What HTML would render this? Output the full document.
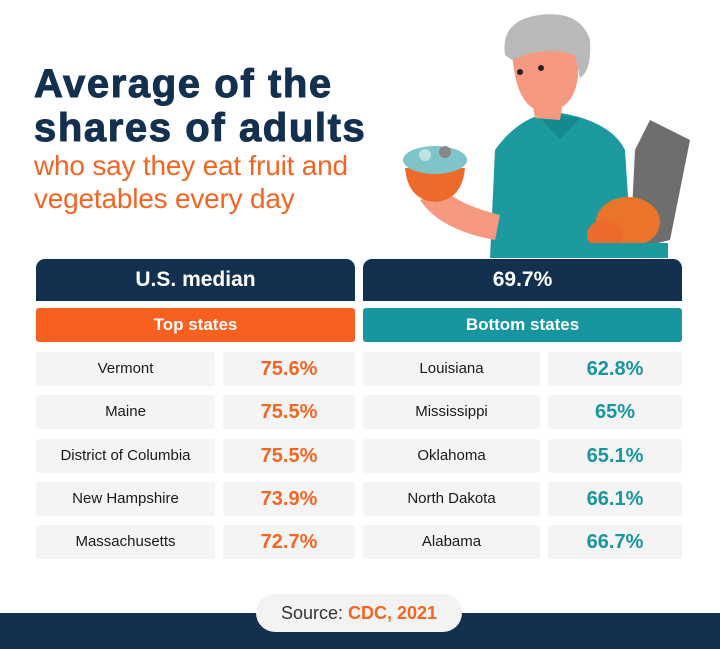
<!DOCTYPE html>
<html><head><meta charset="utf-8"><style>
body{margin:0;width:720px;height:649px;background:#fff;position:relative;overflow:hidden;font-family:"Liberation Sans",sans-serif}
.a{position:absolute}
.t1{left:34px;font-size:40px;font-weight:900;color:#13304f;letter-spacing:1.6px;-webkit-text-stroke:1px #13304f}
.t2{left:34px;font-size:28px;color:#f26522;letter-spacing:-0.2px}
.hd{background:#13304f;color:#fff;font-size:21px;font-weight:bold;text-align:center;line-height:42px;border-radius:9px 9px 0 0;top:259px;height:42px}
.sb{color:#fff;font-size:17px;font-weight:bold;text-align:center;line-height:34px;border-radius:3px;top:308px;height:34px}
.c{background:#f4f4f4;height:34px;line-height:34px;text-align:center;border-radius:3px;font-size:15px;color:#1a1a1a}
.v{font-size:20px;font-weight:bold}
</style></head><body>
<svg class="a" style="left:380px;top:0" width="320" height="260" viewBox="380 0 320 260">
<path d="M490 258 L495 150 Q520 115 555 112 Q610 120 625 150 L632 258Z" fill="#1c9aa0"/>
<path d="M535 112 L560 140 L580 118Z" fill="#138a90"/>
<path d="M420 200 Q440 230 495 240 L500 215 Q460 205 445 190Z" fill="#f59a80"/>
<path d="M528 80 L535 118 L560 120 L565 90Z" fill="#f59a80"/>
<path d="M512 50 Q515 110 545 112 Q575 110 578 75 L578 50Z" fill="#f59a80"/>
<path d="M505 55 Q500 20 540 15 Q580 10 590 40 Q592 70 580 78 L575 55 Q545 45 512 60Z" fill="#b9b9b9"/>
<circle cx="520" cy="72" r="3" fill="#222"/><circle cx="541" cy="68" r="3" fill="#222"/>
<path d="M405 168 L465 168 Q462 200 435 202 Q408 200 405 168Z" fill="#ee6a2a"/>
<ellipse cx="435" cy="160" rx="32" ry="14" fill="#7fc4c8"/>
<circle cx="425" cy="155" r="6" fill="#bfe3e5"/><circle cx="445" cy="152" r="6" fill="#888"/>
<path d="M630 250 L635 150 L650 120 L690 140 L670 240Z" fill="#555" opacity=".85"/>
<ellipse cx="628" cy="222" rx="32" ry="25" fill="#e9742a"/>
<ellipse cx="605" cy="235" rx="18" ry="15" fill="#ee6a2a"/>
<rect x="585" y="243" width="83" height="15" fill="#1c9aa0"/>
</svg>
<div class="a t1" style="top:62px">Average of the</div>
<div class="a t1" style="top:106px">shares of adults</div>
<div class="a t2" style="top:150px">who say they eat fruit and</div>
<div class="a t2" style="top:183px">vegetables every day</div>
<div class="a hd" style="left:36px;width:319px">U.S. median</div>
<div class="a hd" style="left:363px;width:319px">69.7%</div>
<div class="a sb" style="left:36px;width:319px;background:#f7601e">Top states</div>
<div class="a sb" style="left:363px;width:319px;background:#1796a0">Bottom states</div>
<div id="rows"></div>
<script>
var L=[["Vermont","75.6%"],["Maine","75.5%"],["District of Columbia","75.5%"],["New Hampshire","73.9%"],["Massachusetts","72.7%"]];
var R=[["Louisiana","62.8%"],["Mississippi","65%"],["Oklahoma","65.1%"],["North Dakota","66.1%"],["Alabama","66.7%"]];
var h="";
for(var i=0;i<5;i++){var y=352+i*43.3;
h+='<div class="a c" style="left:36px;width:179px;top:'+y+'px">'+L[i][0]+'</div>';
h+='<div class="a c v" style="left:223px;width:132px;top:'+y+'px;color:#f26522">'+L[i][1]+'</div>';
h+='<div class="a c" style="left:363px;width:177px;top:'+y+'px">'+R[i][0]+'</div>';
h+='<div class="a c v" style="left:548px;width:134px;top:'+y+'px;color:#1796a0">'+R[i][1]+'</div>';}
document.getElementById("rows").innerHTML=h;
</script>
<div class="a" style="left:0;top:613px;width:720px;height:36px;background:#13304f"></div>
<div class="a" style="left:256px;top:594px;width:206px;height:38px;background:#f3f3f3;border-radius:19px;text-align:center;line-height:38px;font-size:18px;color:#333">Source: <b style="color:#f26522">CDC, 2021</b></div>
</body></html>
